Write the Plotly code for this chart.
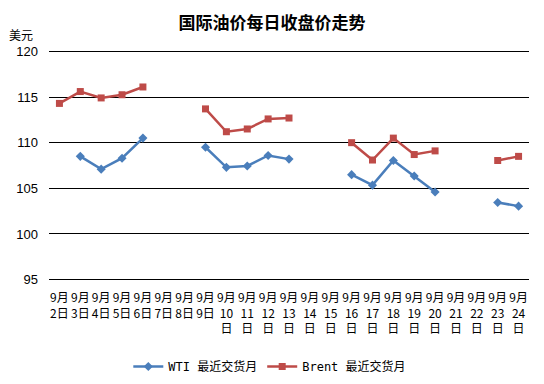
import plotly.graph_objects as go

days = [2, 3, 4, 5, 6, 7, 8, 9, 10, 11, 12, 13, 14, 15, 16, 17, 18, 19, 20, 21, 22, 23, 24]
wti = [None, 108.5, 107.1, 108.3, 110.5, None, None, 109.5, 107.3, 107.45, 108.6, 108.2,
       None, None, 106.5, 105.35, 108.05, 106.35, 104.6, None, None, 103.45, 103.05]
brent = [114.3, 115.6, 114.9, 115.25, 116.1, None, None, 113.7, 111.2, 111.5, 112.6, 112.7,
         None, None, 110.0, 108.1, 110.5, 108.7, 109.1, None, None, 108.05, 108.5]

def lab(d):
    return f"9月<br>{d}日" if d < 10 else f"9月<br>{d}<br>日"

cats = [lab(d) for d in days]

fig = go.Figure()
fig.add_trace(go.Scatter(x=cats, y=wti, mode="lines+markers", name="WTI 最近交货月",
                         line=dict(color="#4A7EBB", width=2.5),
                         marker=dict(symbol="diamond", size=7, color="#4A7EBB"),
                         connectgaps=False))
fig.add_trace(go.Scatter(x=cats, y=brent, mode="lines+markers", name="Brent 最近交货月",
                         line=dict(color="#BE4B48", width=2.5),
                         marker=dict(symbol="square", size=7, color="#BE4B48"),
                         connectgaps=False))

fig.update_layout(
    width=544, height=384,
    margin=dict(l=49, r=15, t=50, b=103, autoexpand=False),
    paper_bgcolor="white", plot_bgcolor="white",
    font=dict(family="Liberation Sans, Noto Sans CJK SC", size=12, color="black"),
    title=dict(text="<b>国际油价每日收盘价走势</b>", x=0.5, xanchor="center", y=0.94, yanchor="middle",
               font=dict(family="Noto Sans CJK SC", size=17, color="black")),
    showlegend=True,
    legend=dict(orientation="h", x=0.46, xanchor="center", y=-0.37, yanchor="middle",
                font=dict(family="DejaVu Sans Mono, Noto Sans CJK SC", size=12), itemwidth=30),
    xaxis=dict(type="category", range=[-0.5, len(days) - 0.5], showgrid=False, showline=False,
               ticks="", automargin=False,
               tickangle=0, tickfont=dict(family="Noto Sans CJK SC", size=12), ticklabelstandoff=8),
    yaxis=dict(range=[94.85, 120.15], tickvals=[95, 100, 105, 110, 115, 120], showgrid=True,
               gridcolor="black", gridwidth=1, automargin=False,
               zeroline=False, showline=False, ticks="", ticklabelstandoff=10,
               tickfont=dict(size=13)),
    annotations=[dict(text="美元", xref="paper", yref="paper", x=-0.03, y=1.065,
                      xanchor="right", yanchor="middle", showarrow=False,
                      font=dict(family="Noto Sans CJK SC", size=12))],
)

fig.write_html("out.html", config={"displayModeBar": False},
               post_script="document.body.style.margin='0';")
